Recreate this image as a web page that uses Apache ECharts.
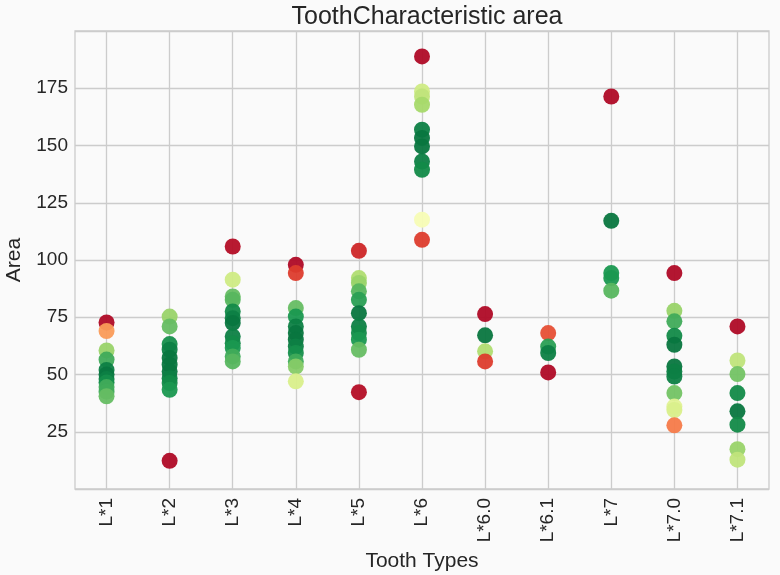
<!DOCTYPE html>
<html>
<head>
<meta charset="utf-8">
<script src="https://cdn.jsdelivr.net/npm/echarts@6/dist/echarts.min.js"></script>
<style>
html,body{margin:0;padding:0;background:#fafafa;}
#chart{width:780px;height:575px;}
</style>
</head>
<body>
<div id="chart"></div>
<script>
// Categories and tick labels
const categories = ['L*1','L*2','L*3','L*4','L*5','L*6','L*6.0','L*6.1','L*7','L*7.0','L*7.1'];
const yTickValues = [25, 50, 75, 100, 125, 150, 175];

// Area values per tooth type
const areaL1  = [72.7, 69.0, 60.5, 56.5, 52.0, 50.0, 48.0, 46.5, 44.5, 42.5, 40.5];
const areaL2  = [75.3, 71.0, 63.3, 60.8, 57.2, 54.3, 51.3, 48.4, 46.3, 43.3, 12.3];
const areaL3  = [105.9, 91.4, 84.1, 82.6, 77.5, 74.6, 72.5, 66.6, 63.7, 61.6, 57.9, 55.7];
const areaL4  = [97.9, 94.3, 79.0, 75.3, 71.0, 68.1, 65.2, 62.2, 59.4, 55.7, 53.5, 47.0];
const areaL5  = [104.0, 92.1, 90.0, 86.3, 82.6, 76.8, 71.0, 68.1, 65.2, 60.8, 42.3];
const areaL6  = [188.9, 173.6, 171.4, 167.8, 156.9, 153.3, 149.6, 143.0, 139.4, 117.6, 108.8];
const areaL60 = [76.4, 67.1, 60.1, 55.7];
const areaL61 = [68.1, 62.2, 59.4, 50.9];
const areaL7  = [171.4, 117.1, 94.3, 92.1, 86.6];
const areaL70 = [94.3, 77.8, 73.2, 66.9, 63.0, 53.5, 51.3, 49.1, 41.9, 36.0, 34.5, 27.8];
const areaL71 = [71.0, 56.1, 50.2, 41.9, 33.9, 28.1, 17.4, 12.8];

// Colour value per point (0..1, mapped through the RdYlGn colormap)
const cL1  = [0.02, 0.27, 0.72, 0.85, 0.95, 0.97, 0.95, 0.92, 0.85, 0.85, 0.80];
const cL2  = [0.72, 0.80, 0.92, 0.95, 0.97, 0.97, 0.97, 0.95, 0.93, 0.90, 0.02];
const cL3  = [0.03, 0.62, 0.80, 0.82, 0.93, 0.95, 0.97, 0.95, 0.93, 0.90, 0.85, 0.82];
const cL4  = [0.02, 0.12, 0.80, 0.90, 0.95, 0.97, 0.97, 0.95, 0.92, 0.85, 0.75, 0.60];
const cL5  = [0.08, 0.68, 0.72, 0.82, 0.88, 0.97, 0.95, 0.93, 0.90, 0.80, 0.03];
const cL6  = [0.02, 0.62, 0.65, 0.70, 0.95, 0.97, 0.97, 0.95, 0.93, 0.52, 0.12];
const cL60 = [0.02, 0.97, 0.68, 0.12];
const cL61 = [0.15, 0.88, 0.95, 0.02];
const cL7  = [0.02, 0.97, 0.90, 0.90, 0.82];
const cL70 = [0.02, 0.72, 0.85, 0.93, 0.97, 0.97, 0.95, 0.95, 0.78, 0.58, 0.60, 0.22];
const cL71 = [0.02, 0.65, 0.78, 0.93, 0.97, 0.93, 0.72, 0.65];

const areas = [areaL1, areaL2, areaL3, areaL4, areaL5, areaL6, areaL60, areaL61, areaL7, areaL70, areaL71];
const colors = [cL1, cL2, cL3, cL4, cL5, cL6, cL60, cL61, cL7, cL70, cL71];

const points = [];
areas.forEach((arr, i) => {
  arr.forEach((v, j) => points.push([i, v, colors[i][j]]));
});

const FONT = 'Liberation Sans, Arial, sans-serif';
const chart = echarts.init(document.getElementById('chart'), null, {renderer: 'canvas'});
chart.setOption({
  backgroundColor: '#fafafa',
  animation: false,
  title: {
    text: 'ToothCharacteristic area',
    left: 422, top: 0, textAlign: 'center',
    textStyle: {fontFamily: FONT, fontSize: 25, fontWeight: 'normal', color: '#262626'}
  },
  grid: {
    left: 75, right: 11, top: 31, bottom: 86,
    containLabel: false, outerBoundsMode: 'none',
    show: true, borderColor: '#cccccc', borderWidth: 1.3, backgroundColor: '#fafafa'
  },
  visualMap: {
    show: false, type: 'continuous', dimension: 2, min: 0, max: 1,
    inRange: {color: ['#a50026','#d73027','#f46d43','#fdae61','#fee08b','#ffffbf','#d9ef8b','#a6d96a','#66bd63','#1a9850','#006837']}
  },
  xAxis: {
    type: 'category',
    data: categories,
    boundaryGap: true,
    name: 'Tooth Types', nameLocation: 'middle', nameGap: 57,
    nameTextStyle: {fontFamily: FONT, fontSize: 21, color: '#262626'},
    axisLine: {show: false},
    axisTick: {show: false, alignWithLabel: true},
    splitLine: {show: true, alignWithLabel: true, lineStyle: {color: '#cccccc', width: 1.3}},
    axisLabel: {interval: 0, rotate: 90, margin: 9, fontFamily: FONT, fontSize: 19, color: '#262626'}
  },
  yAxis: {
    type: 'value', min: 0, max: 200, interval: 25,
    name: 'Area', nameLocation: 'middle', nameGap: 50,
    nameTextStyle: {fontFamily: FONT, fontSize: 21, color: '#262626'},
    axisLine: {show: false}, axisTick: {show: false},
    splitLine: {show: true, lineStyle: {color: '#cccccc', width: 1.3}},
    axisLabel: {
      showMinLabel: false, showMaxLabel: false, margin: 7,
      fontFamily: FONT, fontSize: 19, color: '#262626',
      formatter: v => (yTickValues.indexOf(v) >= 0 ? String(v) : '')
    }
  },
  series: [{
    type: 'scatter',
    symbol: 'circle',
    symbolSize: 16,
    data: points,
    encode: {x: 0, y: 1},
    itemStyle: {opacity: 0.95}
  }]
});
</script>
</body>
</html>
